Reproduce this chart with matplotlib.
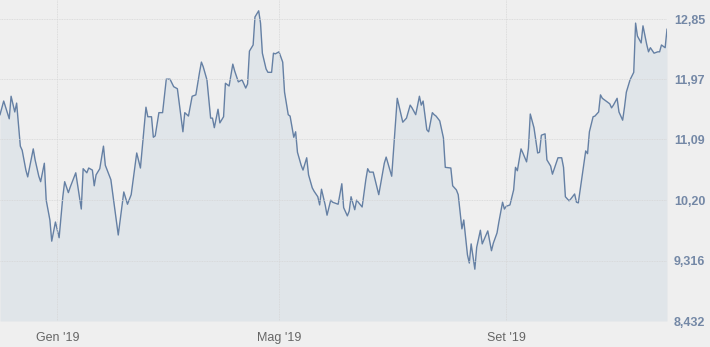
import datetime as dt
import matplotlib
matplotlib.use("Agg")
import matplotlib.pyplot as plt

# days counted from 2018-12-01
start = dt.date(2018, 12, 1)
days = [0, 2, 5, 6, 8, 9, 11, 12, 14, 15, 18, 19, 21, 22, 24, 25, 27, 28, 30, 32,
        34, 35, 37, 38, 41, 44, 45, 47, 48, 50, 51, 52, 54, 56, 57, 60, 64, 67, 69, 71,
        74, 76, 79, 80, 82, 83, 84, 86, 88, 90, 92, 94, 96, 99, 100, 102, 104, 106, 108, 109,
        110, 112, 114, 115, 116, 118, 119, 121, 122, 124, 126, 127, 129, 131, 133, 134, 135, 137, 138, 140,
        141, 142, 144, 145, 147, 148, 149, 151, 153, 154, 156, 157, 159, 160, 161, 163, 164, 166, 167, 169,
        170, 172, 173, 174, 176, 177, 179, 180, 183, 185, 186, 188, 189, 190, 192, 193, 196, 198, 199, 200,
        202, 205, 208, 209, 212, 215, 218, 220, 222, 223, 225, 227, 228, 229, 231, 232, 234, 235, 236, 238,
        240, 241, 244, 245, 247, 248, 250, 251, 253, 254, 255, 257, 258, 260, 261, 264, 266, 267, 269, 270,
        272, 273, 274, 276, 278, 279, 280, 282, 283, 285, 286, 287, 289, 291, 292, 293, 295, 296, 298, 299,
        300, 302, 304, 305, 306, 308, 309, 311, 312, 313, 315, 317, 318, 319, 321, 322, 324, 325, 326, 328,
        330, 331, 332, 334, 335, 337, 338, 339, 341, 343, 344, 345, 347, 348, 350, 351, 352, 354, 356, 357,
        358, 360, 361]
values = [11.45, 11.65, 11.39, 11.72, 11.49, 11.62, 10.99, 10.93, 10.64, 10.54, 10.95, 10.79, 10.55, 10.47, 10.74, 10.20, 9.91, 9.60, 9.88, 9.65,
          10.25, 10.47, 10.31, 10.39, 10.60, 10.07, 10.66, 10.60, 10.67, 10.64, 10.41, 10.57, 10.66, 10.99, 10.71, 10.50, 9.69, 10.32, 10.14, 10.28,
          10.89, 10.67, 11.56, 11.42, 11.42, 11.12, 11.14, 11.48, 11.48, 11.97, 11.97, 11.86, 11.83, 11.20, 11.48, 11.43, 11.72, 11.74, 12.07, 12.22,
          12.15, 11.96, 11.40, 11.40, 11.26, 11.53, 11.33, 11.42, 11.91, 11.87, 12.19, 12.09, 11.93, 11.96, 11.84, 11.90, 12.38, 12.47, 12.88, 12.97,
          12.79, 12.35, 12.12, 12.07, 12.07, 12.35, 12.34, 12.37, 12.22, 11.78, 11.45, 11.43, 11.12, 11.20, 10.90, 10.71, 10.64, 10.82, 10.57, 10.38,
          10.33, 10.25, 10.13, 10.36, 10.13, 9.98, 10.20, 10.17, 10.14, 10.44, 10.09, 9.97, 10.04, 10.25, 10.06, 10.20, 10.10, 10.50, 10.66, 10.61,
          10.61, 10.28, 10.74, 10.83, 10.55, 11.69, 11.34, 11.40, 11.59, 11.55, 11.45, 11.72, 11.59, 11.65, 11.23, 11.20, 11.48, 11.45, 11.43, 11.36,
          11.11, 10.68, 10.67, 10.41, 10.35, 10.28, 9.78, 9.91, 9.40, 9.28, 9.56, 9.19, 9.51, 9.76, 9.56, 9.75, 9.46, 9.57, 9.72, 9.88,
          10.17, 10.07, 10.11, 10.13, 10.35, 10.68, 10.63, 10.95, 10.89, 10.76, 10.96, 11.46, 11.26, 10.89, 10.90, 11.15, 11.17, 10.79, 10.70, 10.58,
          10.66, 10.82, 10.82, 10.68, 10.25, 10.19, 10.22, 10.29, 10.17, 10.16, 10.54, 10.92, 10.88, 11.20, 11.42, 11.43, 11.49, 11.74, 11.69, 11.65,
          11.61, 11.55, 11.59, 11.69, 11.49, 11.37, 11.56, 11.78, 11.96, 12.07, 12.79, 12.60, 12.50, 12.75, 12.48, 12.37, 12.43, 12.35, 12.37, 12.37,
          12.47, 12.43, 12.70]
yticks = [8.432, 9.316, 10.20, 11.09, 11.97, 12.85]
ylabels = ["8,432", "9,316", "10,20", "11,09", "11,97", "12,85"]
xticks = [dt.date(2019, 1, 1), dt.date(2019, 5, 1), dt.date(2019, 9, 1)]
xlabels = ["Gen '19", "Mag '19", "Set '19"]

dates = [start + dt.timedelta(days=d) for d in days]

plt.rcParams['font.family'] = ['Liberation Sans', 'DejaVu Sans']
bg = '#efefef'
fig = plt.figure(figsize=(7.1, 3.47), dpi=100, facecolor=bg)
ax = fig.add_axes([0, 1 - 321 / 347, 667 / 710, 321 / 347])
ax.set_facecolor(bg)

ax.fill_between(dates, values, 8.432, color='#e0e5e9', lw=0)
ax.plot(dates, values, color='#6580a4', lw=1.0)

ax.set_xlim(start, start + dt.timedelta(days=days[-1]))
ax.set_ylim(8.432, 13.128)

ax.yaxis.tick_right()
ax.set_yticks(yticks)
ax.set_yticklabels(ylabels, fontsize=9, fontweight='bold', color='#7488a6')
ax.set_xticks(xticks)
ax.set_xticklabels(xlabels, fontsize=9, color='#666666')
ax.tick_params(axis='y', length=0, pad=5)
ax.tick_params(axis='x', length=0, pad=8)

ax.grid(True, color='#d6d6d6', linestyle=(0, (1, 1)), lw=0.6)
ax.set_axisbelow(False)
for s in ax.spines.values():
    s.set_visible(False)

fig.savefig('out.png', dpi=100, facecolor=bg)
